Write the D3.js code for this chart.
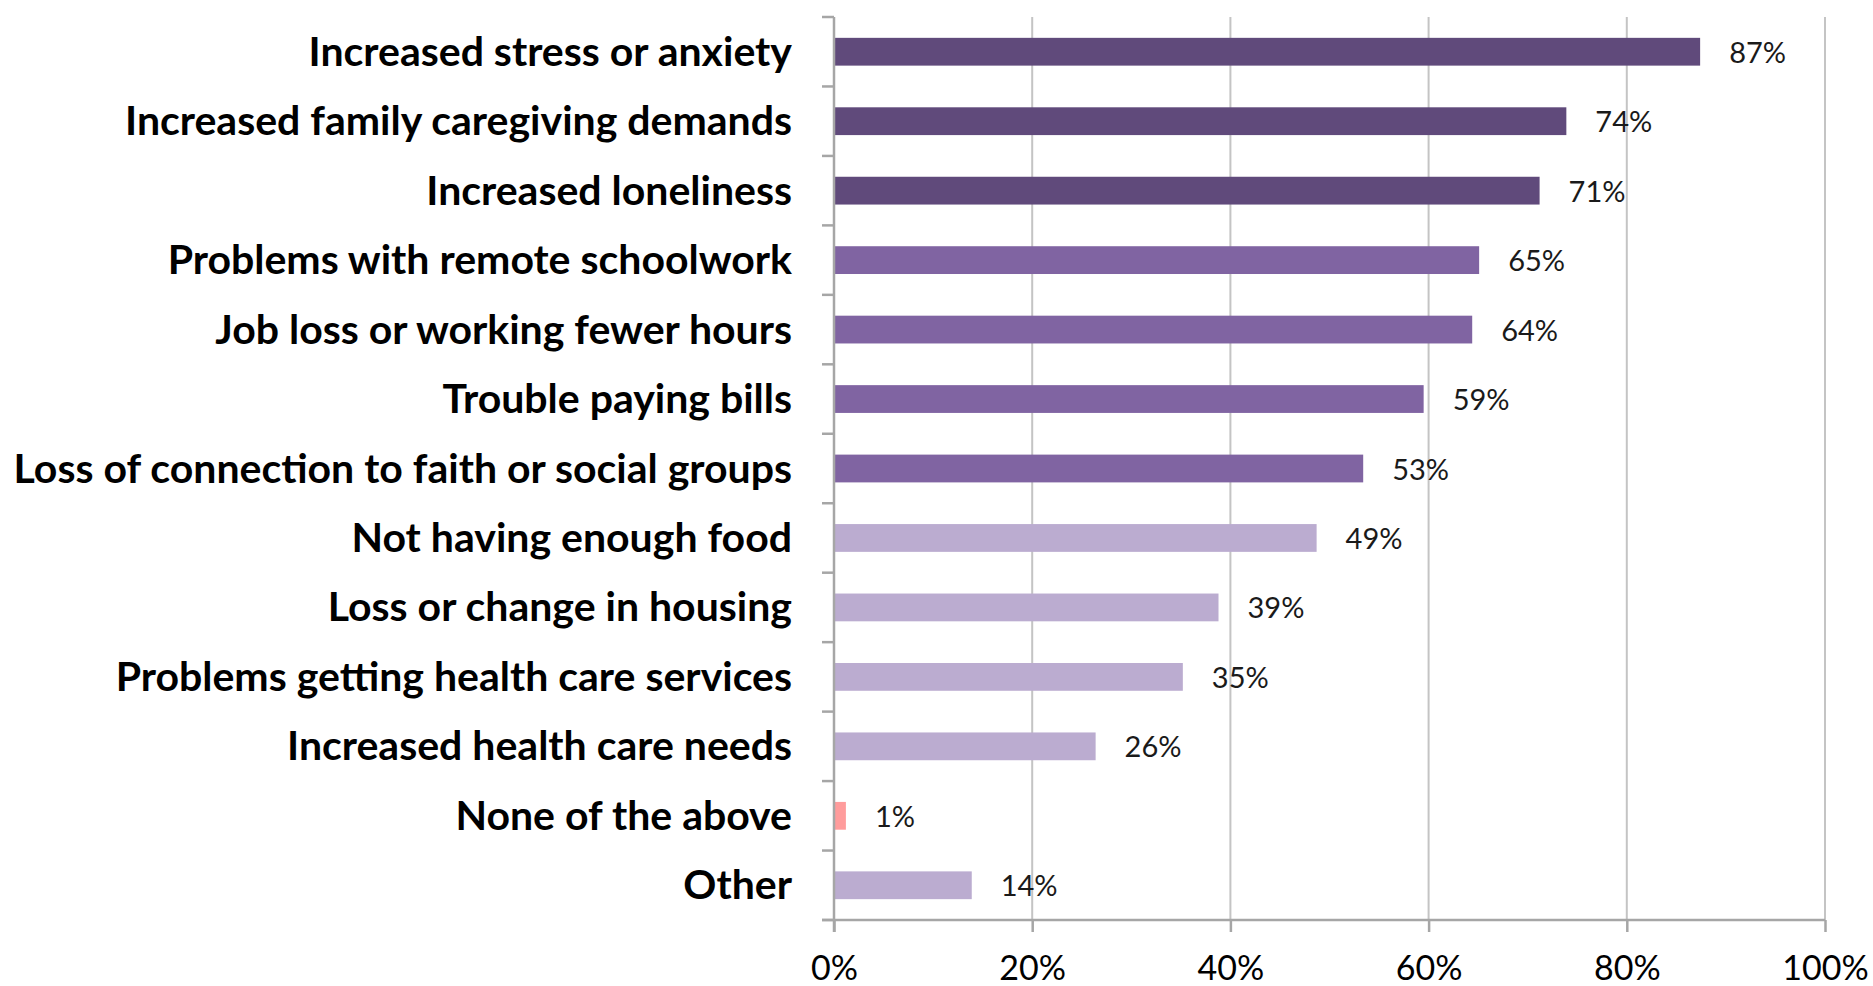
<!DOCTYPE html>
<html lang="en">

<head>
	<meta charset="UTF-8">
	<title>Pandemic impacts</title>

	<style>
		body {
			margin: 0;
			background: #fff;
		}

		text {
			font-family: Lato, "Open Sans", sans-serif;
		}
	</style>

	<script src="https://d3js.org/d3.v7.min.js"></script>

</head>

<body>

	<script type="text/javascript">
		// chart data
		const categories = [
			"Increased stress or anxiety",
			"Increased family caregiving demands",
			"Increased loneliness",
			"Problems with remote schoolwork",
			"Job loss or working fewer hours",
			"Trouble paying bills",
			"Loss of connection to faith or social groups",
			"Not having enough food",
			"Loss or change in housing",
			"Problems getting health care services",
			"Increased health care needs",
			"None of the above",
			"Other"
		];
		const values = [87.4, 73.9, 71.2, 65.1, 64.4, 59.5, 53.4, 48.7, 38.8, 35.2, 26.4, 1.2, 13.9];
		const valueLabels = ["87%", "74%", "71%", "65%", "64%", "59%", "53%", "49%", "39%", "35%", "26%", "1%", "14%"];
		const groups = ["dark", "dark", "dark", "mid", "mid", "mid", "mid", "light", "light", "light", "light", "pink", "light"];
		const xTicks = [0, 20, 40, 60, 80, 100];

		let width = 1873;
		let height = 986;

		const svg = d3.select("body").append("svg")
			.attr("width", width)
			.attr("height", height);

		const color = d3.scaleOrdinal()
			.domain(["dark", "mid", "light", "pink"])
			.range(["#604a7b", "#8064a2", "#bbacd0", "#ff9c9c"]);

		const x = d3.scaleLinear()
			.domain([0, 100])
			.range([834, 1825]);

		const y = d3.scaleBand()
			.domain(categories)
			.range([17, 920])
			.paddingInner(0.6)
			.paddingOuter(0.3);

		const step = y.step();

		// gridlines
		svg.selectAll(".grid")
			.data(xTicks.slice(1))
			.join("line")
			.attr("class", "grid")
			.attr("x1", d => x(d))
			.attr("x2", d => x(d))
			.attr("y1", 17)
			.attr("y2", 920)
			.style("stroke", "#c4c4c4")
			.style("stroke-width", 2);

		// bars
		svg.selectAll(".bar")
			.data(categories)
			.join("rect")
			.attr("class", "bar")
			.attr("x", x(0))
			.attr("y", d => y(d))
			.attr("width", (d, i) => x(values[i]) - x(0))
			.attr("height", y.bandwidth())
			.style("fill", (d, i) => color(groups[i]));

		// y axis line + ticks between categories
		svg.append("line")
			.attr("x1", x(0))
			.attr("x2", x(0))
			.attr("y1", 17)
			.attr("y2", 932)
			.style("stroke", "#a6a6a6")
			.style("stroke-width", 2.5);

		svg.selectAll(".ytick")
			.data(d3.range(categories.length + 1))
			.join("line")
			.attr("class", "ytick")
			.attr("x1", x(0) - 12)
			.attr("x2", x(0))
			.attr("y1", i => 17 + i * step)
			.attr("y2", i => 17 + i * step)
			.style("stroke", "#a6a6a6")
			.style("stroke-width", 2.5);

		// x axis
		const xAxis = svg.append("g")
			.attr("transform", "translate(0,920)")
			.call(d3.axisBottom(x)
				.tickValues(xTicks)
				.tickSize(12)
				.tickPadding(14)
				.tickFormat(d => d + "%"));

		xAxis.select(".domain")
			.attr("d", "M" + (x(0) - 12) + ",0H" + x(100))
			.style("stroke", "#a6a6a6")
			.style("stroke-width", 2.5);

		xAxis.selectAll(".tick line")
			.style("stroke", "#a6a6a6")
			.style("stroke-width", 2.5);

		xAxis.selectAll(".tick text")
			.attr("dy", null)
			.attr("y", 60)
			.style("font-size", "34px")
			.style("fill", "#000");

		// category labels
		svg.selectAll(".cat")
			.data(categories)
			.join("text")
			.attr("class", "cat")
			.attr("x", 792)
			.attr("y", d => y(d) + y.bandwidth() / 2 + 14)
			.attr("text-anchor", "end")
			.style("font-size", "41px")
			.style("font-weight", "bold")
			.style("fill", "#000")
			.text(d => d);

		// value labels
		svg.selectAll(".val")
			.data(categories)
			.join("text")
			.attr("class", "val")
			.attr("x", (d, i) => x(values[i]) + 29)
			.attr("y", d => y(d) + y.bandwidth() / 2 + 11)
			.style("font-size", "29px")
			.style("fill", "#1a1a1a")
			.text((d, i) => valueLabels[i]);
	</script>

</body>

</html>
